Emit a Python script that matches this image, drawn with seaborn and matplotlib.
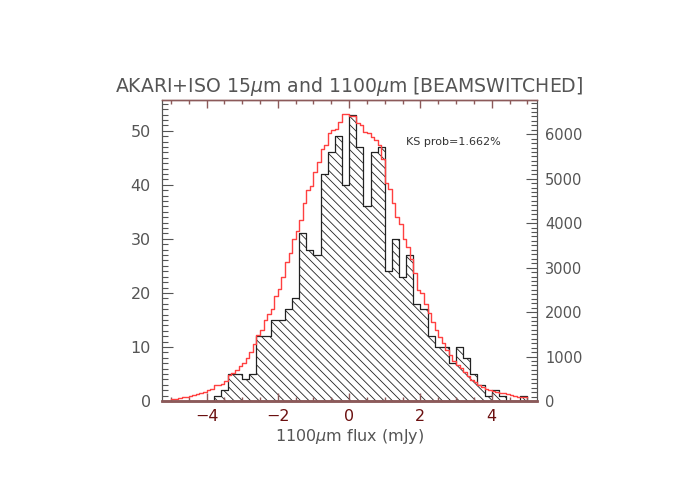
import numpy as np
import pandas as pd
import matplotlib
matplotlib.use("Agg")
import matplotlib.pyplot as plt
from matplotlib.ticker import MultipleLocator
import seaborn as sns

# AKARI+ISO stacked sources: 1100um flux histogram (0.2 mJy bins)
black_start = -3.8
black_width = 0.2
black_counts = [1, 2, 5, 5, 4, 5,
                12, 12, 15, 15, 17, 19,
                31, 28, 27, 42, 46, 49, 40,
                53, 47, 36, 46, 47,
                24, 30, 23, 27, 18,
                17, 12, 10, 10, 7,
                10, 8, 5, 3, 1,
                2, 1, 0, 0, 1]

# full map pixel distribution (0.1 mJy bins), right axis
red_start = -5.0
red_width = 0.1
red_counts = [40, 55, 75, 85, 95, 120, 135, 160, 175, 205,
              240, 280, 350, 360, 380, 450, 580, 620, 690, 780,
              850, 960, 1100, 1290, 1480, 1590, 1820, 1950, 2080, 2360,
              2530, 2790, 3130, 3320, 3640, 3830, 4070, 4450, 4750, 4840,
              5160, 5380, 5660, 5760, 6020, 6100, 6120, 6280, 6450, 6450,
              6420, 6400, 6260, 6210, 6060, 6020, 5940, 5880, 5760, 5450,
              4900, 4760, 4450, 4140, 3990, 3650, 3470, 3200, 2880, 2500,
              2420, 2180, 1970, 1780, 1590, 1440, 1300, 1150, 1030, 890,
              820, 740, 650, 560, 480, 420, 360, 320, 280, 250,
              230, 205, 190, 170, 150, 135, 120, 100, 90, 80]

ks_text = "KS prob=1.662%"

black_edges = black_start + black_width * np.arange(len(black_counts) + 1)
red_edges = red_start + red_width * np.arange(len(red_counts) + 1)
df_black = pd.DataFrame({"flux": (black_edges[:-1] + black_edges[1:]) / 2, "n": black_counts})
df_red = pd.DataFrame({"flux": (red_edges[:-1] + red_edges[1:]) / 2, "n": red_counts})

plt.rcParams["hatch.linewidth"] = 0.6
plt.rcParams["hatch.color"] = "black"
plt.rcParams["font.family"] = ["DejaVu Sans"]

grey = "#555555"
axis_red = "#8c5a5a"
label_red = "#6b1010"
back_hatch = chr(92) * 4  # denser "\" hatching

fig = plt.figure(figsize=(7, 5), dpi=100)
ax = fig.add_axes([0.2314, 0.198, 0.5357, 0.602])
ax2 = ax.twinx()

sns.histplot(data=df_black, x="flux", weights="n", bins=list(black_edges), element="step",
             fill=True, color="#222222", facecolor="none", edgecolor="#222222",
             linewidth=0.9, hatch=back_hatch, ax=ax)
sns.histplot(data=df_red, x="flux", weights="n", bins=list(red_edges), element="step",
             fill=False, color="#ff4040", linewidth=1.0, ax=ax2)

ax.set_xlim(-5.25, 5.27)
ax.set_ylim(0, 55.7)
ax2.set_ylim(0, 6770)

ax.set_title(r"AKARI+ISO 15$\mu$m and 1100$\mu$m [BEAMSWITCHED]", fontsize=13.6,
             color=grey, pad=6)
ax.set_xlabel(r"1100$\mu$m flux (mJy)", fontsize=11.5, color=grey, labelpad=2)
ax.set_ylabel("")
ax2.set_ylabel("")

ax.xaxis.set_major_locator(MultipleLocator(2))
ax.xaxis.set_minor_locator(MultipleLocator(0.5))
ax.yaxis.set_major_locator(MultipleLocator(10))
ax.yaxis.set_minor_locator(MultipleLocator(1))
ax2.yaxis.set_major_locator(MultipleLocator(1000))
ax2.yaxis.set_minor_locator(MultipleLocator(100))

ax.tick_params(axis="x", which="both", direction="in", top=True, colors=axis_red,
               labelcolor=label_red, labelsize=11.5, pad=6)
ax.tick_params(axis="x", which="major", length=6, width=1)
ax.tick_params(axis="x", which="minor", length=3, width=1)
ax.tick_params(axis="y", which="both", direction="in", colors=grey, labelsize=11.5, pad=8)
ax.tick_params(axis="y", which="major", length=8, width=0.8)
ax.tick_params(axis="y", which="minor", length=4, width=0.8)
ax2.tick_params(axis="y", which="both", direction="in", colors=grey, labelsize=10.5, pad=6)
ax2.tick_params(axis="y", which="major", length=8, width=0.8)
ax2.tick_params(axis="y", which="minor", length=4, width=0.8)

for a in (ax, ax2):
    a.spines["bottom"].set_color(axis_red)
    a.spines["bottom"].set_linewidth(1.8)
    a.spines["top"].set_color(axis_red)
    a.spines["top"].set_linewidth(1.0)
    a.spines["left"].set_color(grey)
    a.spines["right"].set_color(grey)
    a.spines["left"].set_linewidth(0.8)
    a.spines["right"].set_linewidth(0.8)

ax.text(0.652, 0.862, ks_text, transform=ax.transAxes, fontsize=8, color="#333333",
        va="center", ha="left")

fig.savefig("out.png", dpi=100)
